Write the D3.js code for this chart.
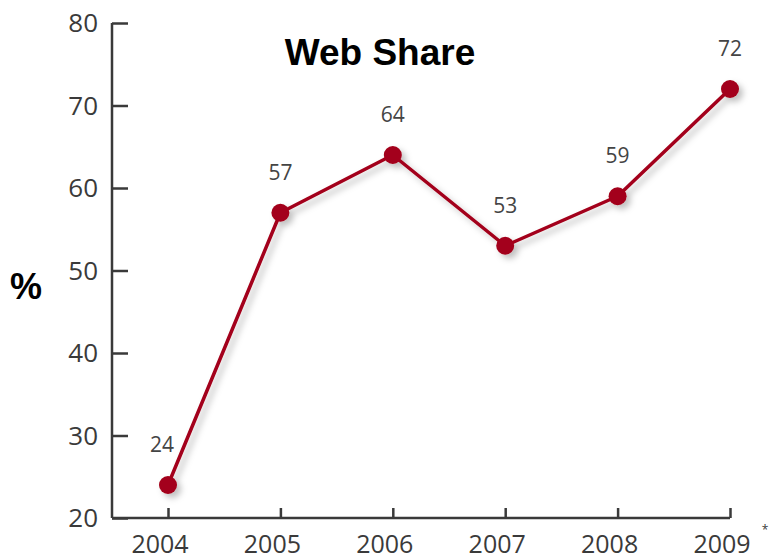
<!DOCTYPE html>
<html>
<head>
<meta charset="utf-8">
<script src="https://cdn.jsdelivr.net/npm/d3@7"></script>
<style>
  body { margin: 0; background: #fff; }
  svg { display: block; }
</style>
</head>
<body>
<svg id="stage" width="769" height="560"></svg>
<script>
var years = ['2004', '2005', '2006', '2007', '2008', '2009'],
    share = [24, 57, 64, 53, 59, 72],
    yTicks = [20, 30, 40, 50, 60, 70, 80];

var svg = d3.select('#stage'),
    LEFT = 112,
    RIGHT = 730,
    TOP = 23,
    BOTTOM = 518,
    RED = '#a3001a',
    INK = '#3a3a3a';

var x = d3.scalePoint()
  .domain(years)
  .range([168, RIGHT]);

var y = d3.scaleLinear()
  .domain([20, 80])
  .range([BOTTOM, TOP]);

// soft shadow under the line
var defs = svg.append('defs');
var shadow = defs.append('filter')
  .attr('id', 'shadow')
  .attr('x', '-20%').attr('y', '-20%')
  .attr('width', '140%').attr('height', '140%');
shadow.append('feDropShadow')
  .attr('dx', 4).attr('dy', 4)
  .attr('stdDeviation', 3)
  .attr('flood-color', '#000')
  .attr('flood-opacity', 0.25);

// y axis, ticks pointing inward
var yAxis = svg.append('g')
  .attr('transform', 'translate(' + LEFT + ',0)')
  .call(d3.axisRight(y).tickValues(yTicks).tickSize(16).tickFormat(''));
yAxis.select('.domain').remove();
yAxis.append('line')
  .attr('x1', 0).attr('x2', 0)
  .attr('y1', TOP).attr('y2', BOTTOM);
yAxis.selectAll('line')
  .attr('stroke', INK)
  .attr('stroke-width', 2.5);

svg.append('g').selectAll('text')
  .data(yTicks)
  .join('text')
    .attr('x', 98)
    .attr('y', function (d) { return y(d) + 9; })
    .attr('text-anchor', 'end')
    .attr('font-family', 'Open Sans, sans-serif')
    .attr('font-size', 26)
    .attr('fill', INK)
    .text(function (d) { return d; });

// x axis, ticks pointing up
var xAxis = svg.append('g')
  .attr('transform', 'translate(0,' + BOTTOM + ')')
  .call(d3.axisTop(x).tickSize(10).tickFormat(''));
xAxis.select('.domain').remove();
xAxis.append('line')
  .attr('x1', LEFT).attr('x2', RIGHT)
  .attr('y1', 0).attr('y2', 0);
xAxis.selectAll('line')
  .attr('stroke', INK)
  .attr('stroke-width', 2.5);

svg.append('g').selectAll('text')
  .data(years)
  .join('text')
    .attr('x', function (d) { return x(d) - 8; })
    .attr('y', 553)
    .attr('text-anchor', 'middle')
    .attr('font-family', 'Open Sans, sans-serif')
    .attr('font-size', 25)
    .attr('fill', INK)
    .text(function (d) { return d; });

svg.append('text')
  .attr('x', 765)
  .attr('y', 534)
  .attr('text-anchor', 'middle')
  .attr('font-family', 'Open Sans, sans-serif')
  .attr('font-size', 12)
  .attr('fill', INK)
  .text('*');

// series
var points = years.map(function (d, i) { return { year: d, value: share[i] }; });

var line = d3.line()
  .x(function (d) { return x(d.year); })
  .y(function (d) { return y(d.value); });

var series = svg.append('g').attr('filter', 'url(#shadow)');

series.append('path')
  .datum(points)
  .attr('d', line)
  .attr('fill', 'none')
  .attr('stroke', RED)
  .attr('stroke-width', 3.5)
  .attr('stroke-linejoin', 'round');

series.selectAll('circle')
  .data(points)
  .join('circle')
    .attr('cx', function (d) { return x(d.year); })
    .attr('cy', function (d) { return y(d.value); })
    .attr('r', 9)
    .attr('fill', RED);

svg.append('g').selectAll('text')
  .data(points)
  .join('text')
    .attr('x', function (d, i) { return x(d.year) - (i === 0 ? 6 : 0); })
    .attr('y', function (d) { return y(d.value) - 33; })
    .attr('text-anchor', 'middle')
    .attr('font-family', 'Open Sans, sans-serif')
    .attr('font-size', 21)
    .attr('fill', '#444')
    .text(function (d) { return d.value; });

// titles
svg.append('text')
  .attr('x', 380)
  .attr('y', 65)
  .attr('text-anchor', 'middle')
  .attr('font-family', 'Liberation Sans, Arial, sans-serif')
  .attr('font-weight', 'bold')
  .attr('font-size', 37)
  .attr('fill', '#000')
  .text('Web Share');

svg.append('text')
  .attr('x', 26)
  .attr('y', 299)
  .attr('text-anchor', 'middle')
  .attr('font-family', 'Liberation Sans, Arial, sans-serif')
  .attr('font-weight', 'bold')
  .attr('font-size', 36)
  .attr('fill', '#000')
  .text('%');
</script>
</body>
</html>
